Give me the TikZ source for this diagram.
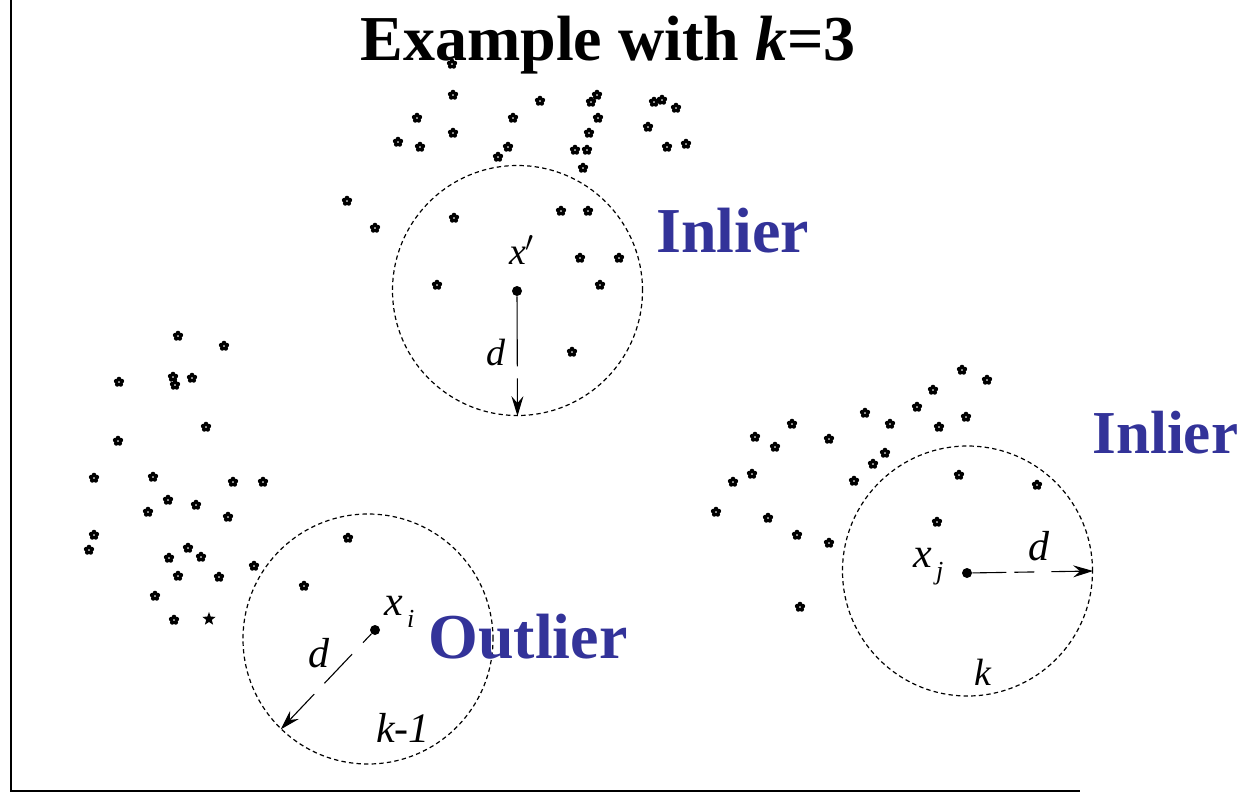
\documentclass[tikz,border=0pt]{standalone}
\usepackage{fontspec}
\setmainfont{Liberation Serif}
\usetikzlibrary{arrows.meta,shapes.geometric}
\definecolor{lblblue}{RGB}{51,51,153}
\tikzset{
  pt/.pic={\fill (90:1.5pt) circle (1.15pt) (162:1.5pt) circle (1.15pt)
                 (234:1.5pt) circle (1.15pt) (306:1.5pt) circle (1.15pt)
                 (18:1.5pt) circle (1.15pt);},
  nbrcircle/.style={circle, draw, dash pattern=on 2.2pt off 1.6pt, line width=0.6pt,
                    inner sep=0pt, minimum size=125pt},
  ctr/.style={circle, fill, inner sep=0pt, minimum size=5pt},
  radiusarrow/.style={line width=0.55pt, -{Stealth[length=10pt,width=6pt,inset=3.5pt]}},
  bluelbl/.style={text=lblblue, font=\fontsize{32}{38}\selectfont\bfseries, inner sep=0pt, anchor=base west},
  mlabel/.style={font=\fontsize{19}{22}\selectfont\itshape, inner sep=0pt},
  biglabel/.style={font=\fontsize{21}{24}\selectfont\itshape, inner sep=0pt},
  axisline/.style={line width=1.3pt}
}
\begin{document}
\begin{tikzpicture}[x=0.5pt,y=-0.5pt]
\useasboundingbox (0,0) rectangle (1242,793);
% axes
\coordinate (ytop) at (11,0);
\coordinate (orig) at (11,791);
\coordinate (xend) at (1080,791);
\draw[axisline] (ytop) -- (orig) -- (xend);
% title
\node[inner sep=0pt, anchor=base, font=\fontsize{32}{38}\selectfont\bfseries] (title) at (608,60) {Example with \textit{k}=3};
% scatter points
\foreach \x/\y in {452/64,453/95,540/101,597/95,591/102,654/102,662/100,676/108,417/118,513/118,598/118,648/127,
  453/133,589/133,398/142,420/147,508/147,498/157,575/150,587/150,583/168,667/147,686/144,347/201,375/228,454/218,
  561/211,588/211,580/258,619/258,437/285,600/285,572/352,
  178/336,224/346,119/382,173/377,175/385,192/378,206/427,118/441,94/478,153/477,233/482,263/482,168/500,196/505,
  148/512,228/517,94/535,89/550,188/548,201/557,169/558,178/576,219/577,254/566,155/596,174/620,348/538,304/586,
  962/370,987/380,933/390,917/407,865/413,890/424,939/427,966/417,792/424,755/437,775/447,829/439,885/453,873/464,
  854/481,752/474,733/482,959/475,716/512,768/518,797/535,829/543,937/522,1037/485,800/607}
  \pic at (\x,\y) {pt};
\node[star, star points=5, star point ratio=2.4, fill, inner sep=0pt, minimum size=7pt] (smallstar) at (209,619) {};
% neighbourhood circles
\node[nbrcircle] (c1) at (517.5,290.5) {};
\node[nbrcircle] (c2) at (368,639) {};
\node[nbrcircle] (c3) at (967.5,571) {};
% centres
\node[ctr] (d1) at (517,291) {};
\node[ctr] (d2) at (375,630) {};
\node[ctr] (d3) at (967,573) {};
% radius arrows
\draw[radiusarrow, dash pattern=on 35pt off 6pt on 30pt] (d1) -- (c1.south);
\draw[radiusarrow, dash pattern=on 6pt off 8pt on 20pt off 7.5pt on 40pt] (d2) -- (c2.226);
\draw[radiusarrow, dash pattern=on 17pt off 4pt on 10pt off 8.5pt on 40pt] (d3) -- (c3.east);
% math labels
\node[mlabel] (lx1) at (522,250) {x$'$};
\node[mlabel] (ld1) at (496,353) {d};
\node[biglabel, anchor=base west] (lx2) at (384,615) {x\hspace{2pt}\raisebox{-0.3em}{\fontsize{13}{13}\selectfont i}};
\node[biglabel] (ld2) at (319,653) {d};
\node[biglabel] (lk2) at (403,728) {k-1};
\node[biglabel, anchor=base west] (lx3) at (913,567) {x\hspace{2pt}\raisebox{-0.3em}{\fontsize{13}{13}\selectfont j}};
\node[biglabel] (ld3) at (1039,546) {d};
\node[mlabel] (lk3) at (983,672) {k};
% blue labels
\node[bluelbl] (in1) at (656,252) {Inlier};
\node[bluelbl, font=\fontsize{30.5}{36}\selectfont\bfseries] (in2) at (1092,453) {Inlier};
\node[bluelbl] (out) at (428,658) {Outlier};
\end{tikzpicture}
\end{document}
